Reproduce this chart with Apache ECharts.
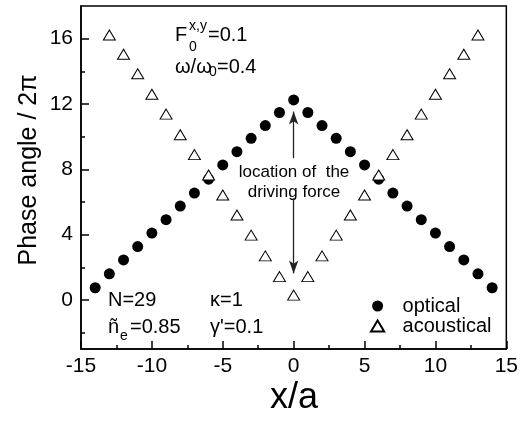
<!DOCTYPE html>
<html>
<head>
<meta charset="utf-8">
<script src="https://cdn.jsdelivr.net/npm/echarts@6/dist/echarts.min.js"></script>
<style>
  html, body { margin: 0; padding: 0; background: #fff; }
  #chart { width: 521px; height: 422px; }
</style>
</head>
<body>
<div id="chart"></div>
<script>
// Phase angle (in units of 2π) along a chain of N = 29 sites, driven at x = 0
const FONT = '"Liberation Sans", Arial, Helvetica, sans-serif';

const opticalX = [-14, -13, -12, -11, -10, -9, -8, -7, -6, -5, -4, -3, -2, -1, 0,
                  1, 2, 3, 4, 5, 6, 7, 8, 9, 10, 11, 12, 13, 14];
const opticalPhase = [0.75, 1.6, 2.45, 3.27, 4.1, 4.92, 5.75, 6.55, 7.4, 8.27, 9.08, 9.9, 10.68, 11.48, 12.25,
                      11.48, 10.68, 9.9, 9.08, 8.27, 7.4, 6.55, 5.75, 4.92, 4.1, 3.27, 2.45, 1.6, 0.75];

const acousticalX = [-13, -12, -11, -10, -9, -8, -7, -6, -5, -4, -3, -2, -1, 0,
                     1, 2, 3, 4, 5, 6, 7, 8, 9, 10, 11, 12, 13];
const acousticalPhase = [16.22, 15.05, 13.85, 12.6, 11.38, 10.12, 8.9, 7.65, 6.43, 5.2, 3.97, 2.7, 1.43, 0.3,
                         1.43, 2.7, 3.97, 5.2, 6.43, 7.65, 8.9, 10.12, 11.38, 12.6, 13.85, 15.05, 16.22];

const yMajorTicks = [0, 4, 8, 12, 16];
const yMinorTicks = [-2, 2, 6, 10, 14];

// arrows pointing to the driving site (x = 0): [x, from, tip]
const upperArrow = [0, 8.68, 11.54];
const lowerArrow = [0, 6.23, 1.63];

// open triangle used as legend key (aspect kept inside the wide key box)
const TRIANGLE_ICON = 'path://M6,0L12,10L0,10Z';

const pairs = (xs, ys) => xs.map((x, i) => [x, ys[i]]);

const chart = echarts.init(document.getElementById('chart'), null, { renderer: 'canvas' });

function txt(x, y, text, size, align) {
  return {
    type: 'text', x: x, y: y, silent: true,
    style: {
      text: text, fill: '#000', font: size + 'px ' + FONT,
      align: align || 'left', verticalAlign: 'middle'
    }
  };
}

const option = {
  backgroundColor: '#fff',
  animation: false,
  grid: {
    left: 81, right: 13, top: 6, bottom: 73,
    show: true, borderColor: '#000', borderWidth: 1.5, backgroundColor: 'transparent'
  },
  xAxis: {
    type: 'value', min: -15, max: 15, interval: 5,
    axisLine: { show: true, onZero: false, lineStyle: { color: '#000', width: 1.5 } },
    axisTick: { show: true, inside: true, length: 8, lineStyle: { color: '#000', width: 1.5 } },
    minorTick: { show: true, splitNumber: 2, length: 4, lineStyle: { color: '#000', width: 1.5 } },
    axisLabel: { margin: 7, color: '#000', fontSize: 21, fontFamily: FONT },
    splitLine: { show: false }
  },
  yAxis: [
    {
      type: 'value', min: -3, max: 18,
      axisLine: { show: true, onZero: false, lineStyle: { color: '#000', width: 1.5 } },
      axisTick: { show: true, inside: true, length: 8, customValues: yMajorTicks,
                  lineStyle: { color: '#000', width: 1.5 } },
      axisLabel: { margin: 8, color: '#000', fontSize: 21, fontFamily: FONT, customValues: yMajorTicks },
      splitLine: { show: false }
    },
    {
      type: 'value', min: -3, max: 18, position: 'left',
      axisLine: { show: false, onZero: false },
      axisTick: { show: true, inside: true, length: 4, customValues: yMinorTicks,
                  lineStyle: { color: '#000', width: 1.5 } },
      axisLabel: { show: false },
      splitLine: { show: false }
    }
  ],
  legend: {
    orient: 'vertical', left: 365, top: 291,
    itemWidth: 40, itemHeight: 11, itemGap: 0,
    symbolKeepAspect: true,
    selectedMode: false,
    textStyle: { color: '#000', fontSize: 20, fontFamily: FONT },
    data: [{ name: 'optical', icon: 'circle' }, { name: 'acoustical', icon: TRIANGLE_ICON }]
  },
  series: [
    {
      name: 'optical', type: 'scatter', yAxisIndex: 0,
      symbol: 'circle', symbolSize: 11,
      itemStyle: { color: '#000', opacity: 1 },
      data: pairs(opticalX, opticalPhase),
      markLine: {
        silent: true, animation: false,
        symbol: ['none', 'arrow'], symbolSize: [7, 13],
        label: { show: false },
        lineStyle: { color: '#222', width: 1.3, type: 'solid', opacity: 1 },
        data: [
          [{ coord: [upperArrow[0], upperArrow[1]] }, { coord: [upperArrow[0], upperArrow[2]] }],
          [{ coord: [lowerArrow[0], lowerArrow[1]] }, { coord: [lowerArrow[0], lowerArrow[2]] }]
        ]
      }
    },
    {
      name: 'acoustical', type: 'scatter', yAxisIndex: 0,
      symbol: 'triangle', symbolSize: [12, 10],
      itemStyle: { color: '#fff', borderColor: '#000', borderWidth: 1, opacity: 1 },
      data: pairs(acousticalX, acousticalPhase)
    }
  ],
  graphic: [
    // drive parameters
    txt(175, 35, 'F', 20),
    txt(189, 26, 'x,y', 14),
    txt(189, 47, '0', 14),
    txt(208, 35, '=0.1', 20),
    txt(175, 67, 'ω/ω', 20),
    txt(209, 72.5, '0', 14),
    txt(217, 67, '=0.4', 20),
    // chain parameters
    txt(108, 300, 'N=29', 20),
    txt(108, 327, 'ñ', 20),
    txt(120, 336, 'e', 14),
    txt(130, 327, '=0.85', 20),
    txt(210, 300, 'κ=1', 20),
    txt(210, 327, 'γ\'=0.1', 20),
    // driving-site note
    txt(294, 172, 'location of  the', 17, 'center'),
    txt(294, 192, 'driving force', 17, 'center'),
    // axis titles
    txt(294, 398, 'x/a', 36, 'center'),
    {
      type: 'text', x: 29, y: 170, rotation: Math.PI / 2, silent: true,
      style: { text: 'Phase angle / 2π', fill: '#000', font: '25px ' + FONT,
               align: 'center', verticalAlign: 'middle' }
    }
  ]
};

chart.setOption(option);
</script>
</body>
</html>
